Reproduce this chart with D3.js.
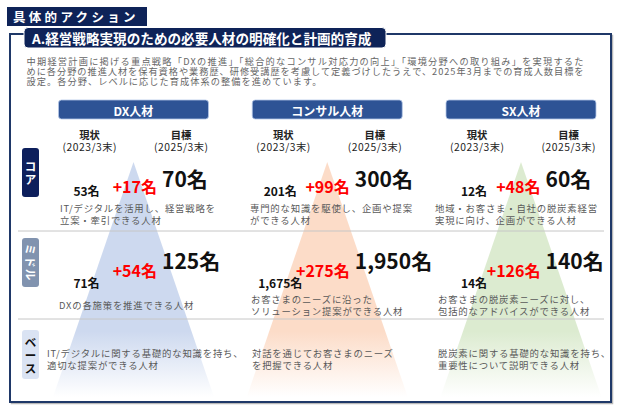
<!DOCTYPE html>
<html>
<head>
<meta charset="utf-8">
<title>具体的アクション</title>
<script src="https://cdn.jsdelivr.net/npm/d3@7"></script>
<style>
  body { margin: 0; background: #fff; }
  svg { display: block; font-family: "Noto Sans CJK JP", "Noto Sans", sans-serif; }
</style>
</head>
<body>
<svg width="618" height="409"></svg>
<script>
// ---- data ----
var title = '具体的アクション';
var subtitle = 'A.経営戦略実現のための必要人材の明確化と計画的育成';
var intro = [
  '中期経営計画に掲げる重点戦略「DXの推進」「総合的なコンサル対応力の向上」「環境分野への取り組み」を実現するた',
  'めに各分野の推進人材を保有資格や業務歴、研修受講歴を考慮して定義づけしたうえで、2025年3月までの育成人数目標を',
  '設定。各分野、レベルに応じた育成体系の整備を進めています。'
];
var categories = ['DX人材', 'コンサル人材', 'SX人材'];
var levels = ['コア', 'ミドル', 'ベース'];
var currentLabel = ['現状', '(2023/3末)'];
var targetLabel = ['目標', '(2025/3末)'];
var coreCurrent = [53, 201, 12];
var coreTarget = [70, 300, 60];
var middleCurrent = [71, 1675, 14];
var middleTarget = [125, 1950, 140];
var coreDesc = [
  ['IT/デジタルを活用し、経営戦略を', '立案・牽引できる人材'],
  ['専門的な知識を駆使し、企画や提案', 'ができる人材'],
  ['地域・お客さま・自社の脱炭素経営', '実現に向け、企画ができる人材']
];
var middleDesc = [
  ['DXの各施策を推進できる人材'],
  ['お客さまのニーズに沿った', 'ソリューション提案ができる人材'],
  ['お客さまの脱炭素ニーズに対し、', '包括的なアドバイスができる人材']
];
var baseDesc = [
  ['IT/デジタルに関する基礎的な知識を持ち、', '適切な提案ができる人材'],
  ['対話を通じてお客さまのニーズ', 'を把握できる人材'],
  ['脱炭素に関する基礎的な知識を持ち、', '重要性について説明できる人材']
];

// ---- layout ----
var navy = '#0e2358';
var triColors = ['#cdd9ef', '#fcdcc8', '#dcebd0'];
var levelFill = ['#0d1f5c', '#8193af', '#dae3f3'];
var levelText = ['#fff', '#fff', '#111'];
var rowTops = [148, 238, 330];
var rowY = [
  {cur: 196, delta: 193, target: 187, desc: 211.5},
  {cur: 288, delta: 277, target: 269, desc: 303},
  {desc: 357}
];
var descLeft = [[60, 250, 435], [59, 251, 438], [47, 252, 438]];
var targetOffset = [28.5, 27.5, 24.5];

var fmt = d3.format(',');
var svg = d3.select('svg');
var x = d3.scalePoint().domain(categories).range([133.5, 521]);
var defs = svg.append('defs');

// triangle gradients
categories.forEach(function(c, i) {
  var g = defs.append('linearGradient')
    .attr('id', 'tri' + i)
    .attr('x1', 0).attr('y1', 0).attr('x2', 0).attr('y2', 1);
  g.append('stop').attr('offset', 0).attr('stop-color', triColors[i]);
  g.append('stop').attr('offset', 0.72).attr('stop-color', triColors[i]);
  g.append('stop').attr('offset', 1).attr('stop-color', triColors[i]).attr('stop-opacity', 0);
});

// main frame
svg.append('rect')
  .attr('x', 11.5).attr('y', 35.5).attr('width', 601).attr('height', 368)
  .attr('fill', 'none').attr('stroke', '#b8b8b8').attr('stroke-width', 1.5);
svg.append('rect')
  .attr('x', 10).attr('y', 34).attr('width', 601).attr('height', 368)
  .attr('fill', '#fff').attr('stroke', '#1f3868').attr('stroke-width', 2);

// header
svg.append('rect')
  .attr('x', 7).attr('y', 7).attr('width', 140).attr('height', 19)
  .attr('fill', navy);
svg.append('text')
  .attr('x', 13).attr('y', 16.5)
  .attr('dominant-baseline', 'central')
  .attr('fill', '#fff').attr('font-size', 12.5).attr('font-weight', 'bold')
  .attr('letter-spacing', 3.3)
  .text(title);

// subtitle tab
svg.append('rect')
  .attr('x', 24).attr('y', 27.5).attr('width', 362).attr('height', 20.5)
  .attr('rx', 4)
  .attr('fill', navy).attr('stroke', '#fff').attr('stroke-width', 1);
svg.append('text')
  .attr('x', 32).attr('y', 38)
  .attr('dominant-baseline', 'central')
  .attr('fill', '#fff').attr('font-size', 13.6).attr('font-weight', 'bold')
  .text(subtitle);

// intro text
svg.append('g').selectAll('text')
  .data(intro)
  .enter()
  .append('text')
  .attr('x', 26.5)
  .attr('y', function(d, i) { return 65 + i * 10; })
  .attr('fill', '#666').attr('font-size', 9.2)
  .attr('letter-spacing', function(d, i) { return i < 2 ? null : 1.05; })
  .attr('textLength', function(d, i) { return i < 2 ? 557 : null; })
  .attr('lengthAdjust', 'spacing')
  .text(function(d) { return d; });

// triangles
svg.append('g').selectAll('path')
  .data(categories)
  .enter()
  .append('path')
  .attr('d', function(d) {
    var cx = x(d);
    return d3.line()([[cx, 162], [cx + 80.5, 397], [cx - 80.5, 397]]) + 'Z';
  })
  .attr('fill', function(d, i) { return 'url(#tri' + i + ')'; });

// row dividers
svg.append('g').selectAll('line')
  .data([231, 319])
  .enter()
  .append('line')
  .attr('x1', 18).attr('x2', 604)
  .attr('y1', function(d) { return d; }).attr('y2', function(d) { return d; })
  .attr('stroke', '#c6c6c6').attr('stroke-width', 1);

// column headers
var cols = svg.append('g').selectAll('g')
  .data(categories)
  .enter()
  .append('g');
cols.append('rect')
  .attr('x', function(d) { return x(d) - 75; })
  .attr('y', 100).attr('width', 150).attr('height', 19)
  .attr('rx', 3)
  .attr('fill', '#2e5395').attr('stroke', '#b4c7e7').attr('stroke-width', 0.8);
cols.append('text')
  .attr('x', function(d) { return x(d); })
  .attr('y', 110)
  .attr('text-anchor', 'middle').attr('dominant-baseline', 'central')
  .attr('fill', '#fff').attr('font-size', 12).attr('font-weight', 'bold')
  .text(function(d) { return d; });

// 現状 / 目標 labels
[[currentLabel, -44], [targetLabel, 47.5]].forEach(function(lab) {
  lab[0].forEach(function(t, k) {
    cols.append('text')
      .attr('x', function(d) { return x(d) + lab[1]; })
      .attr('y', k === 0 ? 139 : 151)
      .attr('text-anchor', 'middle')
      .attr('fill', '#222').attr('font-size', 10.3)
      .attr('font-weight', k === 0 ? 'bold' : 'normal')
      .attr('textLength', k === 0 ? null : 54)
      .attr('lengthAdjust', 'spacing')
      .text(t);
  });
});

// level labels
levels.forEach(function(lv, i) {
  var top = rowTops[i], h = 49, cx = 30.5, cy = top + h / 2;
  svg.append('rect')
    .attr('x', 22).attr('y', top).attr('width', 17).attr('height', h)
    .attr('rx', 3)
    .attr('fill', levelFill[i]);
  if (i === 1) {
    svg.append('text')
      .attr('transform', 'translate(' + cx + ',' + cy + ') rotate(90)')
      .attr('text-anchor', 'middle').attr('dominant-baseline', 'central')
      .attr('fill', levelText[i]).attr('font-size', 11.5).attr('font-weight', 'bold')
      .attr('letter-spacing', 1)
      .text(lv);
  } else {
    var chars = lv.split('');
    svg.append('g').selectAll('text')
      .data(chars)
      .enter()
      .append('text')
      .attr('x', cx)
      .attr('y', function(d, k) { return cy + (k - (chars.length - 1) / 2) * 13; })
      .attr('text-anchor', 'middle').attr('dominant-baseline', 'central')
      .attr('fill', levelText[i]).attr('font-size', 11.5).attr('font-weight', 'bold')
      .text(function(d) { return d; });
  }
});

// numbers for core and middle rows
[[coreCurrent, coreTarget], [middleCurrent, middleTarget]].forEach(function(row, r) {
  var ly = rowY[r];
  var g = svg.append('g');
  categories.forEach(function(c, i) {
    var cur = row[0][i], tgt = row[1][i];
    var tx = x(c) + targetOffset[i];
    g.append('text')
      .attr('x', x(c) - 47).attr('y', ly.cur)
      .attr('text-anchor', 'middle')
      .attr('fill', '#111').attr('font-size', 12).attr('font-weight', 'bold')
      .text(fmt(cur) + '名');
    g.append('text')
      .attr('x', tx - 5).attr('y', ly.delta)
      .attr('text-anchor', 'end')
      .attr('fill', '#ff0000').attr('font-size', 16).attr('font-weight', 'bold')
      .text('+' + fmt(tgt - cur) + '名');
    g.append('text')
      .attr('x', tx).attr('y', ly.target)
      .attr('fill', '#111').attr('font-size', 21).attr('font-weight', 'bold')
      .text(fmt(tgt) + '名');
  });
});

// descriptions
[coreDesc, middleDesc, baseDesc].forEach(function(rowDesc, r) {
  rowDesc.forEach(function(lines, i) {
    var y0 = rowY[r].desc + (2 - lines.length) * 6;
    svg.append('g').selectAll('text')
      .data(lines)
      .enter()
      .append('text')
      .attr('x', descLeft[r][i])
      .attr('y', function(d, k) { return y0 + k * 12; })
      .attr('fill', '#595959').attr('font-size', 9.4).attr('letter-spacing', 0.8)
      .text(function(d) { return d; });
  });
});
</script>
</body>
</html>
